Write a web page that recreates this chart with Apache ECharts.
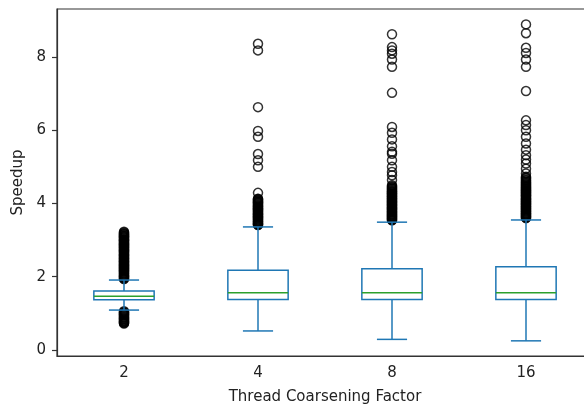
<!DOCTYPE html>
<html>
<head>
<meta charset="utf-8">
<script src="https://cdn.jsdelivr.net/npm/echarts@6/dist/echarts.min.js"></script>
<style>
  html, body { margin: 0; padding: 0; background: #fff; }
  #chart { width: 584px; height: 404px; }
</style>
</head>
<body>
<div id="chart"></div>
<script>
// box statistics per coarsening factor
const categories = ['2', '4', '8', '16'];
const lowerWhisker = [1.09, 0.52, 0.29, 0.25];
const q1 = [1.37, 1.38, 1.38, 1.38];
const median = [1.47, 1.56, 1.56, 1.56];
const q3 = [1.61, 2.18, 2.22, 2.27];
const upperWhisker = [1.91, 3.36, 3.49, 3.55];

// fliers (dense runs are many near-equal values)
const outliers2 = [0.72, 0.74, 0.75, 0.77, 0.78, 0.8, 0.82, 0.84, 0.85, 0.87, 0.89, 0.9, 0.92,
  0.94, 0.96, 0.97, 0.99, 1.01, 1.02, 1.04, 1.06,
  1.94, 1.95, 1.97, 1.99, 2.0, 2.02, 2.03, 2.05, 2.07, 2.09, 2.1, 2.12, 2.14, 2.15, 2.17, 2.18,
  2.2, 2.21, 2.23, 2.24, 2.26, 2.27, 2.29, 2.3, 2.32, 2.33, 2.35, 2.36, 2.38, 2.4, 2.41, 2.42,
  2.44, 2.45, 2.47, 2.49, 2.5, 2.52, 2.53, 2.55, 2.57, 2.58, 2.6, 2.61, 2.63, 2.65, 2.67, 2.68,
  2.7, 2.71, 2.73, 2.74, 2.76, 2.78, 2.79, 2.81, 2.82, 2.84, 2.86, 2.87, 2.88, 2.9, 2.91, 2.93,
  2.94, 2.96, 2.98, 2.99, 3.0, 3.02, 3.03, 3.05, 3.07, 3.08, 3.1, 3.11, 3.12, 3.14, 3.16, 3.17,
  3.19, 3.21, 3.23];
const outliers4 = [3.41, 3.42, 3.44, 3.45, 3.46, 3.48, 3.5, 3.51, 3.53, 3.55, 3.56, 3.58, 3.6,
  3.61, 3.63, 3.64, 3.65, 3.67, 3.69, 3.7, 3.72, 3.73, 3.75, 3.77, 3.78, 3.8, 3.82, 3.83, 3.85,
  3.86, 3.87, 3.89, 3.91, 3.92, 3.94, 3.95, 3.97, 3.99, 4.01, 4.02, 4.04, 4.05, 4.07, 4.09,
  4.1, 4.12, 4.13, 4.29, 5.0, 5.18, 5.35, 5.82, 5.98, 6.63, 8.18, 8.36];
const outliers8 = [3.54, 3.55, 3.57, 3.59, 3.6, 3.62, 3.63, 3.65, 3.66, 3.68, 3.69, 3.71, 3.72,
  3.74, 3.76, 3.77, 3.79, 3.8, 3.82, 3.84, 3.85, 3.87, 3.88, 3.9, 3.91, 3.93, 3.95, 3.96, 3.98,
  3.99, 4.01, 4.03, 4.04, 4.06, 4.07, 4.09, 4.11, 4.12, 4.14, 4.15, 4.17, 4.19, 4.2, 4.22, 4.24,
  4.25, 4.27, 4.28, 4.3, 4.32, 4.33, 4.35, 4.37, 4.39, 4.41, 4.43, 4.45, 4.47, 4.5,
  4.64, 4.77, 4.86, 5.0, 5.18, 5.36, 5.41, 5.56, 5.75, 5.93, 6.09, 7.02, 7.73, 7.93, 8.09,
  8.18, 8.27, 8.62];
const outliers16 = [3.6, 3.61, 3.63, 3.65, 3.66, 3.68, 3.7, 3.71, 3.73, 3.74, 3.76, 3.78, 3.79,
  3.81, 3.83, 3.84, 3.86, 3.87, 3.89, 3.91, 3.92, 3.94, 3.96, 3.97, 3.99, 4.0, 4.02, 4.04, 4.05,
  4.07, 4.09, 4.1, 4.12, 4.13, 4.15, 4.17, 4.19, 4.21, 4.22, 4.24, 4.25, 4.27, 4.29, 4.3, 4.32,
  4.34, 4.35, 4.37, 4.39, 4.4, 4.42, 4.44, 4.46, 4.48, 4.5, 4.52, 4.54, 4.56, 4.58, 4.6, 4.63,
  4.65, 4.68, 4.7, 4.73, 4.82, 4.95, 5.09, 5.2, 5.32, 5.47, 5.64, 5.82, 6.0, 6.14, 6.27, 7.07,
  7.73, 7.93, 8.11, 8.25, 8.65, 8.89];
const yTicks = [0, 2, 4, 6, 8];

const boxData = categories.map((c, i) =>
  [i, lowerWhisker[i], q1[i], median[i], q3[i], upperWhisker[i]]);

const flierData = [];
[outliers2, outliers4, outliers8, outliers16].forEach((arr, i) => {
  arr.forEach(v => flierData.push([i, v]));
});

const BLUE = '#1f77b4';
const GREEN = '#2ca02c';
const FONT = 'DejaVu Sans';

const chart = echarts.init(document.getElementById('chart'));

// matplotlib-style box: half-width caps, green median
function renderBox(params, api) {
  const i = api.value(0);
  const band = api.size([1, 0])[0];
  const bw = band * 0.45;
  const cw = bw / 2;
  const pLow = api.coord([i, api.value(1)]);
  const pQ1 = api.coord([i, api.value(2)]);
  const pMed = api.coord([i, api.value(3)]);
  const pQ3 = api.coord([i, api.value(4)]);
  const pHigh = api.coord([i, api.value(5)]);
  const x = pQ1[0];
  const blue = { stroke: BLUE, lineWidth: 1.5, fill: null };
  return {
    type: 'group',
    children: [
      { type: 'line', shape: { x1: x, y1: pQ1[1], x2: x, y2: pLow[1] }, style: blue },
      { type: 'line', shape: { x1: x, y1: pQ3[1], x2: x, y2: pHigh[1] }, style: blue },
      { type: 'line', shape: { x1: x - cw / 2, y1: pLow[1], x2: x + cw / 2, y2: pLow[1] }, style: blue },
      { type: 'line', shape: { x1: x - cw / 2, y1: pHigh[1], x2: x + cw / 2, y2: pHigh[1] }, style: blue },
      { type: 'rect', shape: { x: x - bw / 2, y: pQ3[1], width: bw, height: pQ1[1] - pQ3[1] }, style: blue },
      { type: 'line', shape: { x1: x - bw / 2, y1: pMed[1], x2: x + bw / 2, y2: pMed[1] },
        style: { stroke: GREEN, lineWidth: 1.5 } }
    ]
  };
}

chart.setOption({
  animation: false,
  backgroundColor: '#fff',
  grid: {
    left: 57, top: 9, width: 536, bottom: 48,
    outerBoundsMode: 'none',
    show: true, borderColor: '#333', borderWidth: 1.2, backgroundColor: '#fff'
  },
  xAxis: {
    type: 'category',
    data: categories,
    name: 'Thread Coarsening Factor',
    nameLocation: 'middle',
    nameGap: 34,
    nameTextStyle: { fontFamily: FONT, fontSize: 15, color: '#222' },
    axisLine: { onZero: false, lineStyle: { color: '#333', width: 1.2 } },
    axisTick: { alignWithLabel: true, length: 5, lineStyle: { color: '#333', width: 1.2 } },
    axisLabel: { fontFamily: FONT, fontSize: 15, color: '#222', margin: 10 },
    splitLine: { show: false }
  },
  yAxis: {
    type: 'value',
    min: -0.164,
    max: 9.31,
    name: 'Speedup',
    nameLocation: 'middle',
    nameGap: 31,
    nameTextStyle: { fontFamily: FONT, fontSize: 15, color: '#222' },
    axisLine: { show: true, lineStyle: { color: '#333', width: 1.2 } },
    axisTick: { show: true, length: 5, customValues: yTicks, lineStyle: { color: '#333', width: 1.2 } },
    axisLabel: { fontFamily: FONT, fontSize: 15, color: '#222', margin: 11, customValues: yTicks },
    splitLine: { show: false }
  },
  series: [
    {
      type: 'scatter',
      data: flierData,
      symbol: 'circle',
      symbolSize: 9,
      itemStyle: { color: 'rgba(0,0,0,0)', borderColor: '#000', borderWidth: 1.5 },
      z: 2
    },
    {
      type: 'custom',
      data: boxData,
      encode: { x: 0, y: [1, 2, 3, 4, 5] },
      renderItem: renderBox,
      z: 3
    }
  ]
});
</script>
</body>
</html>
